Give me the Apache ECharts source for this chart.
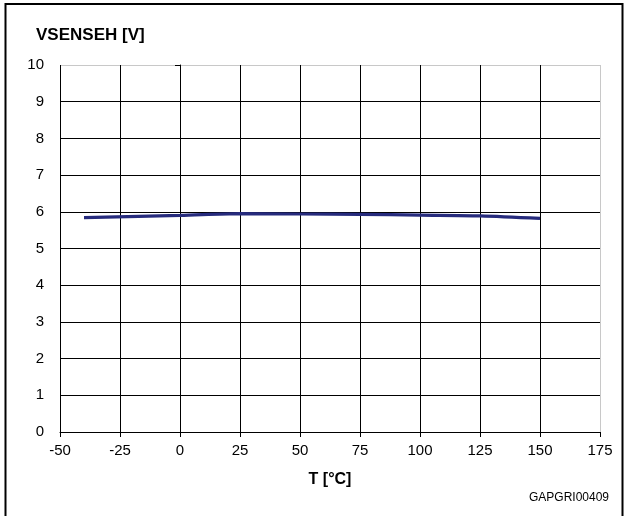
<!DOCTYPE html>
<html><head><meta charset="utf-8">
<script src="https://cdn.jsdelivr.net/npm/echarts@6/dist/echarts.min.js"></script>
<style>html,body{margin:0;padding:0;background:#fff}#c{width:626px;height:516px}</style>
</head><body><div id="c"></div>
<script>
const temps = [-40, 0, 25, 50, 75, 100, 125, 150];
const vsenseh = [5.84, 5.90, 5.95, 5.94, 5.93, 5.91, 5.89, 5.82];
const xTicks = [-50, -25, 0, 25, 50, 75, 100, 125, 150, 175];
const yTicks = [0, 1, 2, 3, 4, 5, 6, 7, 8, 9, 10];

const font = 'Liberation Sans, Arial, sans-serif';
const chart = echarts.init(document.getElementById('c'), null, {renderer: 'canvas'});
const xColors = xTicks.map((t, i) => i === xTicks.length - 1 ? '#c8c8c8' : '#000');
const yColors = yTicks.map((t, i) => i === yTicks.length - 1 ? '#c8c8c8' : '#000');
chart.setOption({
  animation: false,
  backgroundColor: '#fff',
  title: {text: 'VSENSEH [V]', left: 31, top: 22,
    textStyle: {fontFamily: font, fontSize: 17, fontWeight: 'bold', color: '#000'}},
  graphic: [
    {type: 'rect', shape: {x: 5.5, y: 4, width: 617, height: 530},
     style: {fill: 'none', stroke: '#000', lineWidth: 2}, silent: true},
    {type: 'text', right: 17, top: 492,
     style: {text: 'GAPGRI00409', font: '12px ' + font, fill: '#000'}}
  ],
  grid: {left: 60, right: 26, top: 65, bottom: 84},
  xAxis: {
    type: 'value', min: xTicks[0], max: xTicks[xTicks.length - 1], interval: 25,
    name: 'T [°C]', nameLocation: 'middle', nameGap: 40,
    nameTextStyle: {fontFamily: font, fontSize: 16, fontWeight: 'bold', color: '#000'},
    axisLine: {lineStyle: {color: '#000', width: 1}},
    axisTick: {show: true, length: 5, lineStyle: {color: '#000'}},
    axisLabel: {fontFamily: font, fontSize: 15, color: '#000', margin: 11},
    splitLine: {show: true, lineStyle: {color: xColors, width: 1}}
  },
  yAxis: {
    type: 'value', min: 0, max: 10, interval: 1,
    axisLine: {show: true, lineStyle: {color: '#000', width: 1}},
    axisTick: {show: true, length: 5, lineStyle: {color: '#000'}},
    axisLabel: {fontFamily: font, fontSize: 15, color: '#000', margin: 16},
    splitLine: {show: true, lineStyle: {color: yColors, width: 1}}
  },
  series: [{
    type: 'line', data: temps.map((t, i) => [t, vsenseh[i]]),
    smooth: 0.3, showSymbol: false,
    lineStyle: {color: '#262b7d', width: 3.2}
  }]
});
</script></body></html>
